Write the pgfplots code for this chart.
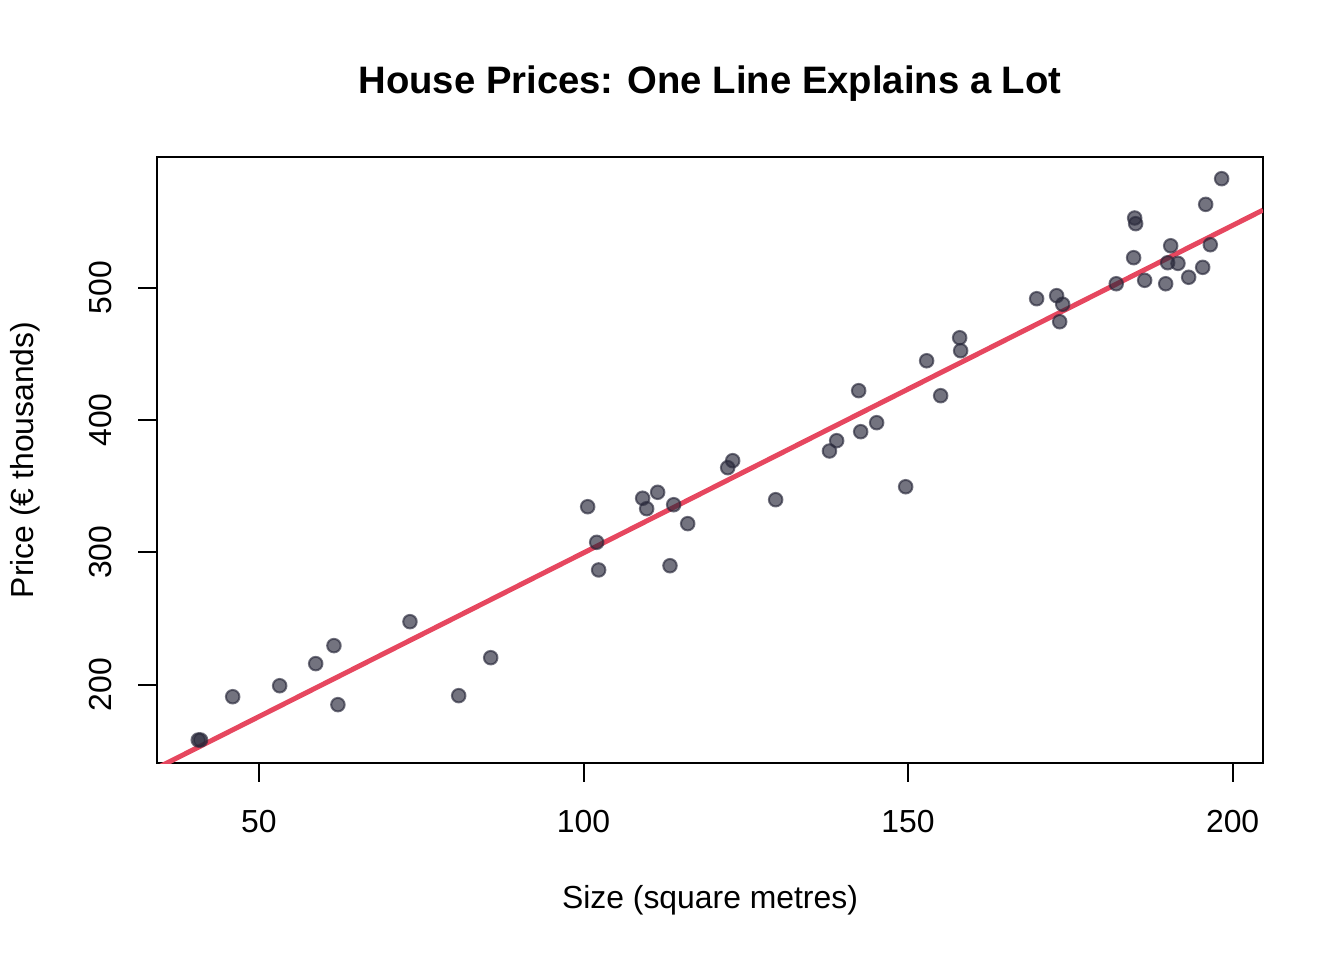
\documentclass[border=0pt]{standalone}
\usepackage{fontspec}
\setmainfont{Liberation Sans}
\usepackage{pgfplots}
\pgfplotsset{compat=1.18}

\definecolor{ptcol}{RGB}{40,40,58}
\definecolor{fitcol}{RGB}{230,71,95}

\begin{document}
\begin{tikzpicture}
\useasboundingbox (0,0) rectangle (7in,5in);
\begin{axis}[
    at={(0.8177in,1.0260in)}, anchor=south west,
    scale only axis,
    width=5.7604in, height=3.1563in,
    xmin=34.29, xmax=204.68,
    ymin=140.8, ymax=598.8,
    xtick={50,100,150,200},
    ytick={200,300,400,500},
    xtick pos=bottom, ytick pos=left,
    tick align=outside,
    major tick length=7.1pt,
    axis line style={line width=0.75pt},
    every tick/.style={black, line width=0.75pt},
    /pgf/number format/assume math mode=true,
    tick label style={font=\fontsize{12}{14}\selectfont},
    xticklabel style={anchor=base},
    xticklabel shift=19pt,
    yticklabel style={rotate=90, anchor=base},
    yticklabel shift=10pt,
    title={House Prices: One Line Explains a Lot},
    title style={font=\bfseries\fontsize{14.4}{17}\selectfont, at={(0.5,1.079)}, anchor=base},
    xlabel={Size (square metres)},
    xlabel style={font=\fontsize{12}{14}\selectfont, at={(0.5,-0.2393)}, anchor=base},
    ylabel={Price (€ thousands)},
    ylabel style={font=\fontsize{12}{14}\selectfont, at={(-0.1118,0.5)}, anchor=base},
    clip=true,
]
\addplot[only marks, mark=*, mark size=2.55pt,
    mark options={draw=ptcol, fill=ptcol, line width=0.75pt, fill opacity=0.65, draw opacity=0.65}]
coordinates {
(40.65,158.2) (41.0,158.2) (45.95,190.9) (53.19,199.2) (58.74,215.9)
(61.55,229.5) (62.16,184.9) (73.26,247.6) (80.77,191.7) (85.70,220.4)
(100.64,334.5) (102.03,307.6) (102.33,286.7) (109.11,340.9) (109.73,333.0)
(111.42,345.4) (113.32,289.9) (113.89,336.0) (116.05,321.7) (122.21,364.0)
(122.98,369.3) (129.60,339.8) (137.89,376.6) (139.00,384.4) (142.39,422.2)
(142.70,391.2) (145.16,398.0) (149.63,349.6) (152.86,444.8) (155.02,418.4)
(157.95,462.2) (158.10,452.4) (169.81,491.7) (172.89,494.0) (173.82,487.5)
(173.36,474.3) (182.07,503.0) (184.91,552.7) (185.06,548.4) (184.75,522.7)
(186.45,505.6) (189.69,503.0) (190.46,531.7) (189.99,518.9) (191.58,518.4)
(193.23,507.9) (195.39,515.4) (195.85,563.0) (196.56,532.5) (198.31,582.4)
};
\addplot[fitcol, line width=1.875pt, no marks] coordinates {
(34.29,137.0) (204.68,558.7)
};
\end{axis}
\end{tikzpicture}
\end{document}
